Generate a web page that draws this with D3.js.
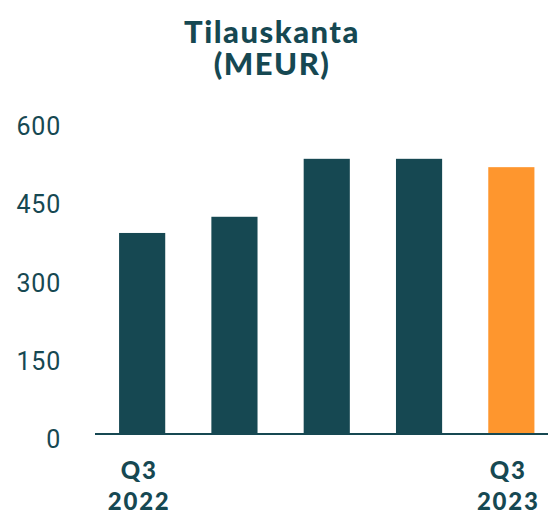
<!DOCTYPE html>
<html>
<head>
<meta charset="utf-8">
<script src="https://cdn.jsdelivr.net/npm/d3@7"></script>
<style>
  body { margin: 0; background: #fff; }
  svg { display: block; }
</style>
</head>
<body>
<div id="chart"></div>
<script>
// quarters, values in MEUR
const quarters = ['Q3 2022', 'Q4 2022', 'Q1 2023', 'Q2 2023', 'Q3 2023']
const values = [385, 416, 527, 527, 511]
const shown_labels = [['Q3', '2022'], null, null, null, ['Q3', '2023']]
const y_ticks = [0, 150, 300, 450, 600]
const title_lines = ['Tilauskanta', '(MEUR)']

const width = 548
const height = 513
const teal = '#164852'
const orange = '#FE962E'

const svg = d3.select('#chart')
  .append('svg')
  .attr('width', width)
  .attr('height', height)

// title
svg.append('g')
  .selectAll('text')
  .data(title_lines)
  .enter()
  .append('text')
    .attr('x', 272)
    .attr('y', (d, i) => 43 + i * 32)
    .attr('text-anchor', 'middle')
    .style('font-family', 'Lato, sans-serif')
    .style('font-weight', 900)
    .style('font-size', '31px')
    .style('letter-spacing', '1.5px')
    .style('fill', teal)
    .text((d) => d)

const x_scale = d3.scaleBand()
  .domain(quarters)
  .range([96, 557.5])
  .paddingInner(0.5)
  .paddingOuter(0.25)

const y_scale = d3.scaleLinear()
  .domain([0, 600])
  .range([434, 120.7])

// y axis labels, no line
const y_axis = svg.append('g')
  .attr('transform', 'translate(61,0)')
  .call(d3.axisLeft(y_scale).tickValues(y_ticks).tickSize(0).tickPadding(0))
y_axis.select('.domain').remove()
y_axis.selectAll('text')
  .attr('dy', '0.55em')
  .style('font-family', 'Roboto, sans-serif')
  .style('font-size', '25px')
  .style('font-weight', 400)
  .style('letter-spacing', '0.8px')
  .style('fill', teal)

// bars
svg.append('g')
  .selectAll('rect')
  .data(values)
  .enter()
  .append('rect')
    .attr('x', (d, i) => x_scale(quarters[i]))
    .attr('y', (d) => y_scale(d))
    .attr('width', x_scale.bandwidth())
    .attr('height', (d) => y_scale(0) - y_scale(d))
    .style('fill', (d, i) => i == quarters.length - 1 ? orange : teal)

// baseline
svg.append('line')
  .attr('x1', 95)
  .attr('x2', width)
  .attr('y1', y_scale(0))
  .attr('y2', y_scale(0))
  .attr('stroke', teal)
  .attr('stroke-width', 2)

// x labels, first and last only
const x_labels = svg.append('g')
  .selectAll('text')
  .data(quarters.map((q, i) => ({ q: q, lines: shown_labels[i] })).filter((d) => d.lines))
  .enter()
  .append('text')
    .attr('text-anchor', 'middle')
    .style('font-family', 'Lato, sans-serif')
    .style('font-weight', 900)
    .style('font-size', '24px')
    .style('letter-spacing', '1.8px')
    .style('fill', teal)
x_labels.selectAll('tspan')
  .data((d) => d.lines.map((l) => ({ q: d.q, l: l })))
  .enter()
  .append('tspan')
    .attr('x', (d) => x_scale(d.q) + x_scale.bandwidth() / 2 - 3)
    .attr('y', (d, i) => 479 + i * 31)
    .text((d) => d.l)
</script>
</body>
</html>
